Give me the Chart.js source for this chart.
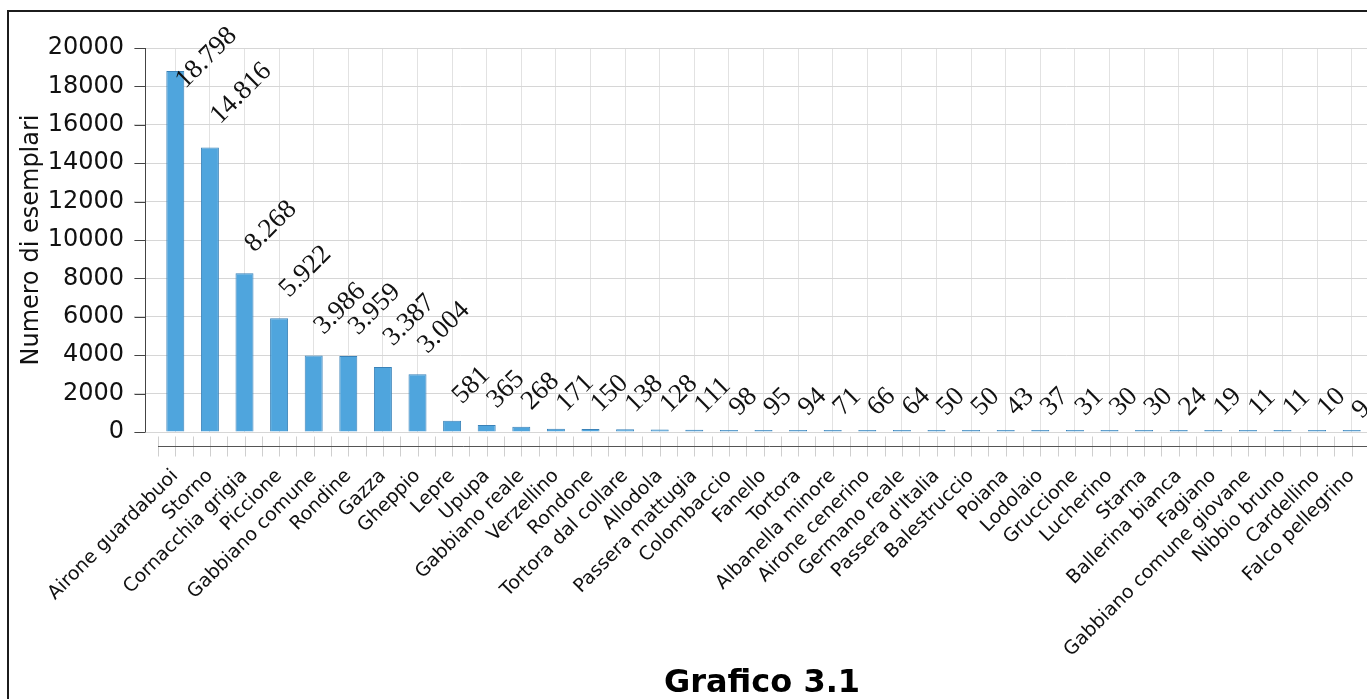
<!DOCTYPE html>
<html>
<head>
<meta charset="utf-8">
<script src="https://cdn.jsdelivr.net/npm/chart.js@4"></script>
<style>
  body { margin: 0; background: #fff; overflow: hidden; width: 1367px; height: 699px; position: relative; }
  #frame { position: absolute; left: 7px; top: 10px; width: 1420px; height: 720px;
           border-left: 2px solid #1c1c1c; border-top: 2px solid #1c1c1c; }
  #c { position: absolute; left: 0; top: 0; }
  #caption { position: absolute; left: 0; width: 1524px; top: 665px; text-align: center;
             font: bold 32px "DejaVu Sans", sans-serif; line-height: 1; color: #000; }
</style>
</head>
<body>
<div id="frame"></div>
<canvas id="c" width="1380" height="699"></canvas>
<div id="caption">Grafico 3.1</div>
<script>
const species = [
    'Airone guardabuoi', 'Storno', 'Cornacchia grigia', 'Piccione', 'Gabbiano comune',
    'Rondine', 'Gazza', 'Gheppio', 'Lepre', 'Upupa', 'Gabbiano reale', 'Verzellino',
    'Rondone', 'Tortora dal collare', 'Allodola', 'Passera mattugia', 'Colombaccio',
    'Fanello', 'Tortora', 'Albanella minore', 'Airone cenerino', 'Germano reale',
    "Passera d'Italia", 'Balestruccio', 'Poiana', 'Lodolaio', 'Gruccione', 'Lucherino',
    'Starna', 'Ballerina bianca', 'Fagiano', 'Gabbiano comune giovane', 'Nibbio bruno',
    'Cardellino', 'Falco pellegrino'
];
const counts = [
    18798, 14816, 8268, 5922, 3986, 3959, 3387, 3004, 581, 365, 268, 171,
    150, 138, 128, 111, 98, 95, 94, 71, 66, 64, 50, 50, 43, 37, 31, 30,
    30, 24, 19, 11, 11, 10, 9
];
const yTicks = [0, 2000, 4000, 6000, 8000, 10000, 12000, 14000, 16000, 18000, 20000];

// 18798 -> "18.798"
function fmt(v) {
    return String(v).replace(/\B(?=(\d{3})+(?!\d))/g, '.');
}

// rotated value labels over the bars
const valueLabels = {
    id: 'valueLabels',
    afterDatasetsDraw(chart) {
        const ctx = chart.ctx;
        const meta = chart.getDatasetMeta(0);
        const base = chart.scales.y.getPixelForValue(0);
        ctx.save();
        ctx.font = '27px "Liberation Serif", serif';
        ctx.fillStyle = '#111';
        ctx.textBaseline = 'alphabetic';
        meta.data.forEach((bar, i) => {
            const txt = fmt(counts[i]);
            const w = ctx.measureText(txt).width;
            const top = Math.min(bar.y, base - 0.5);
            let ay = top - 8 - 0.2 * w;
            const minY = 24 + 0.707 * (w + 18);
            if (ay < minY) ay = minY;
            ctx.save();
            ctx.translate(bar.x + 10, ay);
            ctx.rotate(-Math.PI / 4);
            ctx.fillText(txt, 0, 0);
            ctx.restore();
        });
        ctx.restore();
    }
};

// detached axis lines + tick marks
const axisLines = {
    id: 'axisLines',
    afterDraw(chart) {
        const { ctx, scales: { x, y } } = chart;
        const y0 = y.getPixelForValue(0);
        const step = x.getPixelForValue(1) - x.getPixelForValue(0);
        const axisY = Math.round(y0 + 14) + 0.5;
        const line = (x1, y1, x2, y2) => { ctx.beginPath(); ctx.moveTo(x1, y1); ctx.lineTo(x2, y2); ctx.stroke(); };
        ctx.save();
        ctx.lineWidth = 1;
        ctx.strokeStyle = '#cfcfcf';
        species.forEach((s, i) => {
            const cx = x.getPixelForValue(i);
            line(Math.round(cx - step / 2) + 0.5, axisY - 10, Math.round(cx - step / 2) + 0.5, axisY + 10);
            line(Math.round(cx) + 0.5, axisY - 10, Math.round(cx) + 0.5, axisY + 10);
        });
        ctx.strokeStyle = '#555';
        line(x.left, axisY, x.right + 20, axisY);

        const yx = Math.round(x.left - 13) + 0.5;
        ctx.strokeStyle = '#444';
        line(yx, y.getPixelForValue(y.max), yx, y0);
        yTicks.forEach(t => {
            const py = Math.round(y.getPixelForValue(t)) + 0.5;
            line(yx - 11, py, yx, py);
        });
        ctx.restore();
    }
};

new Chart(document.getElementById('c'), {
    type: 'bar',
    data: {
        labels: species,
        datasets: [{
            data: counts,
            backgroundColor: '#4fa5dd',
            borderColor: '#3a82b8',
            borderWidth: 1,
            minBarLength: 2,
            categoryPercentage: 1,
            barPercentage: 0.52
        }]
    },
    options: {
        responsive: false,
        animation: false,
        layout: { padding: { left: 13, right: 11, top: 48, bottom: 0 } },
        plugins: { legend: { display: false }, tooltip: { enabled: false } },
        scales: {
            x: {
                offset: true,
                afterFit: s => { s.height = 267; s.paddingLeft = 0; s.paddingRight = 0; },
                grid: { offset: false, color: '#e2e2e2', drawTicks: false },
                border: { display: false },
                ticks: {
                    autoSkip: false,
                    minRotation: 45,
                    maxRotation: 45,
                    padding: 33,
                    color: '#111',
                    font: { family: '"DejaVu Sans", sans-serif', size: 19 }
                }
            },
            y: {
                min: 0,
                max: 20000,
                afterFit: s => { s.width = 145; },
                grid: { color: '#d6d6d6', tickLength: 24, tickColor: '#d6d6d6' },
                border: { display: false },
                title: {
                    display: true,
                    text: 'Numero di esemplari',
                    color: '#111',
                    font: { family: '"DejaVu Sans", sans-serif', size: 24 }
                },
                ticks: {
                    stepSize: 2000,
                    padding: 10,
                    color: '#111',
                    font: { family: '"DejaVu Sans", sans-serif', size: 24 },
                    callback: v => String(v)
                }
            }
        }
    },
    plugins: [valueLabels, axisLines]
});
</script>
</body>
</html>
